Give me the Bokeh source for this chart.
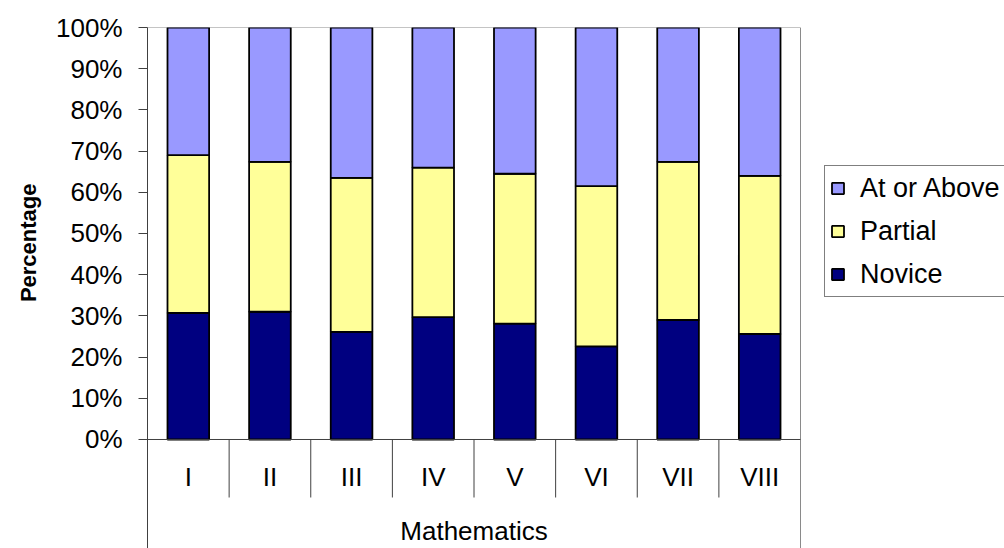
from bokeh.plotting import figure
from bokeh.models import (Range1d, FixedTicker, NumeralTickFormatter,
                          Legend, LegendItem, ColumnDataSource, Title)
from bokeh.core.properties import value
from bokeh.embed import file_html
from bokeh.resources import INLINE

# Share of students at each performance level, by grade (Mathematics)
grades = ["I", "II", "III", "IV", "V", "VI", "VII", "VIII"]
novice = [30.7, 31.0, 26.1, 29.7, 28.1, 22.6, 29.0, 25.6]
partial = [38.3, 36.4, 37.4, 36.3, 36.4, 38.9, 38.4, 38.4]
at_or_above = [31.0, 32.6, 36.5, 34.0, 35.5, 38.5, 32.6, 36.0]
subject = "Mathematics"

levels = ["novice", "partial", "above"]
level_names = {"novice": "Novice", "partial": "Partial", "above": "At or Above"}
colors = ["#000080", "#FFFF99", "#9999FF"]

FONT = "Liberation Sans"
n = len(grades)
xs = [i + 0.5 for i in range(n)]

# page geometry (pixels)
W, H = 1004, 548
LEFT, TOP = 147, 27
PLOT_W = 653          # width of the bar area
Y_MIN = -0.2646       # room under 0% for the category labels

source = ColumnDataSource(dict(
    x=xs,
    grade=grades,
    novice=[v / 100 for v in novice],
    partial=[v / 100 for v in partial],
    above=[v / 100 for v in at_or_above],
))

# the frame reaches the right edge so the legend can sit beside the bars
x_max = n * (W - LEFT) / PLOT_W
p = figure(width=W, height=H, output_backend="svg", toolbar_location=None,
           x_range=Range1d(0, x_max), y_range=Range1d(Y_MIN, 1.0))
p.min_border_left = LEFT
p.min_border_right = 0
p.min_border_top = TOP
p.min_border_bottom = 0
p.xaxis.visible = False
p.grid.visible = False
p.outline_line_color = None
p.background_fill_color = "white"
p.border_fill_color = "white"

# percentage axis
yax = p.yaxis[0]
yax.ticker = FixedTicker(ticks=[i / 10 for i in range(11)])
yax.formatter = NumeralTickFormatter(format="0%")
yax.major_label_text_font = FONT
yax.major_label_text_font_size = "26px"
yax.major_label_text_color = "black"
yax.major_label_standoff = 16
yax.major_tick_in = 0
yax.major_tick_out = 9
yax.minor_tick_line_color = None
yax.axis_line_color = "#404040"
yax.major_tick_line_color = "#404040"

# axis title, placed beside the upper part of the scale
ytitle = Title(text="Percentage", align="right", offset=156, standoff=26,
               text_font=FONT, text_font_size="22px", text_font_style="bold",
               text_color="black")
p.add_layout(ytitle, "left")

# box around the bar area and the category strip
p.segment(x0=[0, n], y0=[1.0, 1.0], x1=[n, n], y1=[1.0, Y_MIN],
          line_color="#8a8a8a", line_width=1)

# stacked bars
renderers = p.vbar_stack(levels, x="x", width=0.51, source=source,
                         color=colors, line_color="black", line_width=1.8)

# baseline at 0%
p.segment(x0=[0], y0=[0], x1=[n], y1=[0], line_color="#404040", line_width=1)

# category dividers and labels beneath the bars
p.segment(x0=list(range(1, n)), y0=[0] * (n - 1), x1=list(range(1, n)),
          y1=[-0.1408] * (n - 1), line_color="#404040", line_width=1)
p.text(x=xs, y=[-0.092] * n, text=grades, text_align="center",
       text_baseline="middle", text_font=value(FONT), text_font_size="26px",
       text_color="black")
p.text(x=[n / 2], y=[-0.221], text=[subject], text_align="center",
       text_baseline="middle", text_font=value(FONT), text_font_size="26px",
       text_color="black")

items = [LegendItem(label=level_names[lv], renderers=[r])
         for lv, r in zip(levels, renderers)][::-1]
legend = Legend(items=items, location=(677, 251))
legend.label_text_font = FONT
legend.label_text_font_size = "27px"
legend.label_text_color = "black"
legend.border_line_color = "black"
legend.border_line_width = 1
legend.background_fill_color = "white"
legend.background_fill_alpha = 1
legend.padding = 5
legend.margin = 0
legend.spacing = 9
legend.glyph_width = 15
legend.glyph_height = 14
legend.label_height = 34
legend.label_standoff = 15
p.add_layout(legend)

open("out.html", "w").write(file_html(p, INLINE))
